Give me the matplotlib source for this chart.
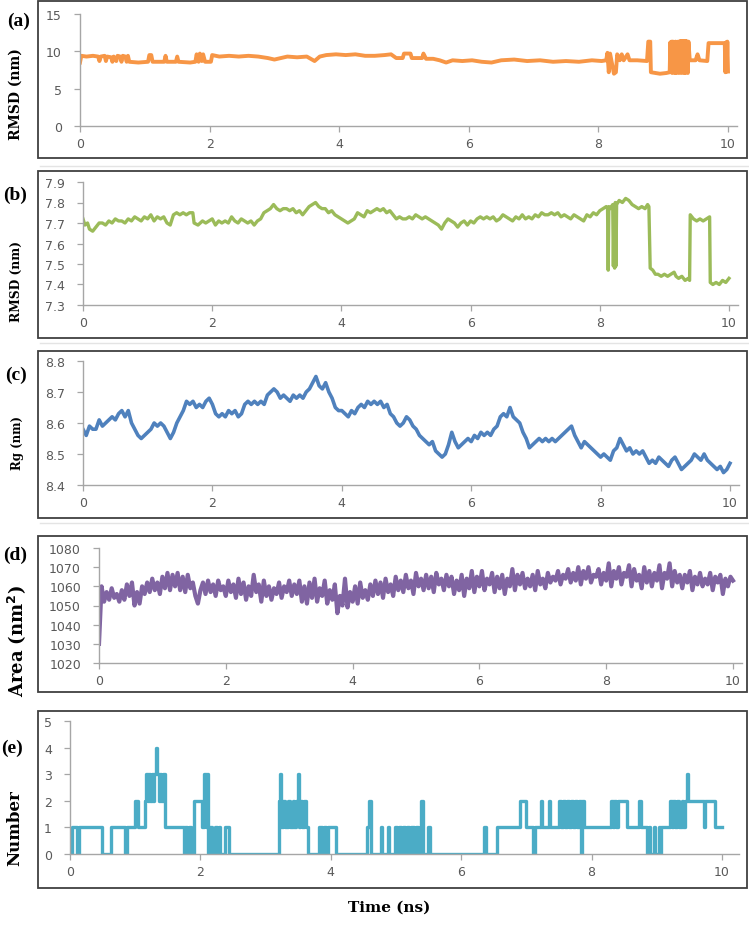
import numpy as np
import matplotlib
matplotlib.use("Agg")
import matplotlib.pyplot as plt
from matplotlib.patches import Rectangle
from matplotlib.lines import Line2D

W, H = 749, 929

# ---- data ----
# (a) RMSD, orange
t_a = [0.00, 0.02, 0.10, 0.20, 0.28, 0.30, 0.32, 0.38, 0.40, 0.42, 0.48, 0.50, 0.52, 0.56,
       0.58, 0.62, 0.64, 0.66, 0.70, 0.72, 0.74, 0.76, 0.90, 1.05, 1.07, 1.10, 1.12, 1.30,
       1.32, 1.34, 1.48, 1.50, 1.52, 1.70, 1.78, 1.80, 1.83, 1.85, 1.88, 1.90, 1.93, 2.02,
       2.04, 2.15, 2.30, 2.45, 2.60, 2.75, 2.90, 3.00, 3.10, 3.20, 3.35, 3.50, 3.58, 3.62,
       3.70, 3.80, 3.95, 4.10, 4.25, 4.40, 4.55, 4.70, 4.80, 4.88, 4.98, 5.00, 5.10, 5.12,
       5.28, 5.30, 5.34, 5.45, 5.55, 5.65, 5.75, 5.90, 6.05, 6.20, 6.35, 6.50, 6.70, 6.90,
       7.10, 7.30, 7.50, 7.70, 7.90, 8.05, 8.12, 8.14, 8.16, 8.18, 8.20, 8.24, 8.27, 8.29,
       8.33, 8.36, 8.39, 8.45, 8.48, 8.60, 8.75, 8.77, 8.80, 8.81, 8.95, 9.05, 9.10,
       9.11, 9.12, 9.13, 9.14, 9.15, 9.16, 9.17, 9.18, 9.19, 9.20, 9.21, 9.22, 9.23, 9.24,
       9.25, 9.26, 9.27, 9.28, 9.29, 9.30, 9.31, 9.32, 9.33, 9.34, 9.35, 9.36, 9.37, 9.38,
       9.39, 9.41, 9.50, 9.53, 9.56, 9.68, 9.70, 9.95, 9.96, 9.97, 9.98, 9.99, 10.00]
rmsd_a = [8.5, 9.4, 9.3, 9.4, 9.3, 8.7, 9.3, 9.4, 8.7, 9.3, 9.2, 8.6, 9.3, 8.7,
          9.4, 9.3, 8.6, 9.4, 9.3, 8.6, 9.4, 8.6, 8.5, 8.6, 9.5, 9.5, 8.6, 8.6,
          9.4, 8.6, 8.6, 9.3, 8.6, 8.5, 8.6, 9.6, 8.6, 9.7, 8.7, 9.6, 8.6, 8.6,
          9.5, 9.3, 9.4, 9.3, 9.4, 9.3, 9.1, 8.9, 9.1, 9.3, 9.2, 9.3, 8.9, 8.7,
          9.3, 9.5, 9.6, 9.5, 9.6, 9.4, 9.4, 9.5, 9.6, 9.1, 9.1, 9.7, 9.7, 9.1,
          9.1, 9.7, 9.0, 9.0, 8.8, 8.5, 8.8, 8.7, 8.8, 8.6, 8.5, 8.8, 8.9, 8.7,
          8.8, 8.6, 8.7, 8.6, 8.8, 8.7, 8.8, 9.8, 7.2, 9.7, 8.8, 7.0, 7.2, 9.6,
          8.8, 9.6, 8.8, 9.6, 8.8, 8.8, 8.7, 11.3, 11.3, 7.2, 7.0, 7.1, 7.2,
          11.2, 7.2, 11.3, 7.1, 11.3, 7.2, 11.2, 7.1, 11.3, 7.1, 11.2, 7.2, 11.3, 7.1,
          11.3, 7.2, 11.4, 7.1, 11.3, 7.2, 11.4, 7.1, 11.3, 7.1, 11.4, 7.2, 11.3, 7.1,
          11.3, 8.8, 8.8, 9.6, 8.8, 8.7, 11.1, 11.1, 7.2, 11.2, 7.3, 11.3, 7.3]

# (b) RMSD, green
t_b = [0.00, 0.03, 0.07, 0.10, 0.15, 0.20, 0.25, 0.30, 0.35, 0.40, 0.45, 0.50, 0.55, 0.60,
       0.65, 0.70, 0.75, 0.80, 0.85, 0.90, 0.95, 1.00, 1.05, 1.10, 1.15, 1.20, 1.25, 1.30,
       1.35, 1.40, 1.45, 1.50, 1.55, 1.60, 1.65, 1.70, 1.72, 1.78, 1.85, 1.90, 1.95, 2.00,
       2.05, 2.10, 2.15, 2.20, 2.25, 2.30, 2.35, 2.40, 2.45, 2.50, 2.55, 2.60, 2.65, 2.70,
       2.75, 2.80, 2.85, 2.90, 2.95, 3.00, 3.05, 3.10, 3.15, 3.20, 3.25, 3.30, 3.35, 3.40,
       3.45, 3.50, 3.55, 3.60, 3.65, 3.70, 3.75, 3.80, 3.85, 3.90, 3.95, 4.00, 4.05, 4.10,
       4.15, 4.20, 4.25, 4.30, 4.35, 4.40, 4.45, 4.50, 4.55, 4.60, 4.65, 4.70, 4.75, 4.80,
       4.85, 4.90, 4.95, 5.00, 5.05, 5.10, 5.15, 5.20, 5.25, 5.30, 5.35, 5.40, 5.45, 5.50,
       5.55, 5.60, 5.65, 5.70, 5.75, 5.80, 5.85, 5.90, 5.95, 6.00, 6.05, 6.10, 6.15, 6.20,
       6.25, 6.30, 6.35, 6.40, 6.45, 6.50, 6.55, 6.60, 6.65, 6.70, 6.75, 6.80, 6.85, 6.90,
       6.95, 7.00, 7.05, 7.10, 7.15, 7.20, 7.25, 7.30, 7.35, 7.40, 7.45, 7.50, 7.55, 7.60,
       7.65, 7.70, 7.75, 7.80, 7.85, 7.90, 7.95, 8.00, 8.05, 8.10, 8.12, 8.13, 8.14, 8.16,
       8.20, 8.21, 8.22, 8.23, 8.24, 8.25, 8.26, 8.30, 8.35, 8.40, 8.45, 8.50, 8.55, 8.60,
       8.65, 8.70, 8.74, 8.76, 8.78, 8.82, 8.86, 8.90, 8.95, 9.00, 9.05, 9.10, 9.15, 9.18,
       9.22, 9.27, 9.32, 9.37, 9.39, 9.40, 9.45, 9.50, 9.55, 9.60, 9.65, 9.70, 9.71, 9.75,
       9.80, 9.85, 9.90, 9.95, 10.00]
rmsd_b = [7.72, 7.69, 7.70, 7.67, 7.66, 7.68, 7.70, 7.70, 7.69, 7.71, 7.70, 7.72, 7.71, 7.71,
          7.70, 7.72, 7.71, 7.73, 7.72, 7.71, 7.73, 7.72, 7.74, 7.71, 7.73, 7.72, 7.73, 7.70,
          7.69, 7.74, 7.75, 7.74, 7.75, 7.74, 7.75, 7.75, 7.70, 7.69, 7.71, 7.70, 7.71, 7.72,
          7.69, 7.71, 7.70, 7.71, 7.70, 7.73, 7.71, 7.70, 7.72, 7.71, 7.70, 7.71, 7.69, 7.71,
          7.72, 7.75, 7.76, 7.77, 7.79, 7.77, 7.76, 7.77, 7.77, 7.76, 7.77, 7.75, 7.76, 7.74,
          7.76, 7.78, 7.79, 7.80, 7.78, 7.77, 7.77, 7.75, 7.76, 7.74, 7.73, 7.72, 7.71, 7.70,
          7.71, 7.72, 7.75, 7.74, 7.73, 7.76, 7.75, 7.76, 7.77, 7.76, 7.77, 7.75, 7.76, 7.74,
          7.72, 7.73, 7.72, 7.72, 7.73, 7.72, 7.74, 7.73, 7.72, 7.73, 7.72, 7.71, 7.70, 7.69,
          7.67, 7.70, 7.72, 7.71, 7.70, 7.68, 7.70, 7.71, 7.69, 7.71, 7.70, 7.72, 7.73, 7.72,
          7.73, 7.72, 7.73, 7.71, 7.72, 7.74, 7.73, 7.72, 7.71, 7.73, 7.72, 7.74, 7.72, 7.73,
          7.72, 7.74, 7.73, 7.75, 7.74, 7.74, 7.75, 7.74, 7.75, 7.73, 7.74, 7.73, 7.72, 7.74,
          7.73, 7.72, 7.71, 7.74, 7.73, 7.75, 7.74, 7.76, 7.77, 7.78, 7.77, 7.47, 7.78, 7.77,
          7.79, 7.49, 7.78, 7.48, 7.80, 7.49, 7.79, 7.81, 7.80, 7.82, 7.81, 7.79, 7.78, 7.77,
          7.78, 7.77, 7.79, 7.78, 7.48, 7.47, 7.45, 7.45, 7.44, 7.45, 7.44, 7.45, 7.46, 7.44,
          7.43, 7.44, 7.42, 7.43, 7.42, 7.74, 7.72, 7.71, 7.72, 7.71, 7.72, 7.73, 7.41, 7.40,
          7.41, 7.40, 7.42, 7.41, 7.43]

# (c) Rg, blue -- one value every 0.05 ns
rg_c = [8.58, 8.56, 8.59, 8.58, 8.58, 8.61, 8.59, 8.60, 8.61, 8.62, 8.61,
        8.63, 8.64, 8.62, 8.64, 8.60, 8.58, 8.56, 8.55, 8.56, 8.57,
        8.58, 8.60, 8.59, 8.60, 8.59, 8.57, 8.55, 8.57, 8.60, 8.62,
        8.64, 8.67, 8.66, 8.67, 8.65, 8.66, 8.65, 8.67, 8.68, 8.66,
        8.63, 8.62, 8.63, 8.62, 8.64, 8.63, 8.64, 8.62, 8.63, 8.66,
        8.67, 8.66, 8.67, 8.66, 8.67, 8.66, 8.69, 8.70, 8.71, 8.70,
        8.68, 8.69, 8.68, 8.67, 8.69, 8.68, 8.69, 8.68, 8.70, 8.71,
        8.73, 8.75, 8.72, 8.71, 8.73, 8.70, 8.68, 8.65, 8.64, 8.64,
        8.63, 8.62, 8.64, 8.63, 8.65, 8.66, 8.65, 8.67, 8.66, 8.67,
        8.66, 8.67, 8.65, 8.66, 8.63, 8.62, 8.60, 8.59, 8.60, 8.62,
        8.61, 8.59, 8.58, 8.56, 8.55, 8.54, 8.53, 8.54, 8.51, 8.50,
        8.49, 8.50, 8.53, 8.57, 8.54, 8.52, 8.53, 8.54, 8.55, 8.54,
        8.56, 8.55, 8.57, 8.56, 8.57, 8.56, 8.58, 8.59, 8.62, 8.63,
        8.62, 8.65, 8.62, 8.61, 8.60, 8.57, 8.55, 8.52, 8.53, 8.54,
        8.55, 8.54, 8.55, 8.54, 8.55, 8.54, 8.55, 8.56, 8.57, 8.58,
        8.59, 8.56, 8.54, 8.52, 8.54, 8.53, 8.52, 8.51, 8.50, 8.49,
        8.50, 8.49, 8.48, 8.51, 8.52, 8.55, 8.53, 8.51, 8.52, 8.50,
        8.51, 8.50, 8.51, 8.49, 8.47, 8.48, 8.47, 8.49, 8.48, 8.47,
        8.46, 8.48, 8.49, 8.47, 8.45, 8.46, 8.47, 8.48, 8.50, 8.49,
        8.48, 8.50, 8.48, 8.47, 8.46, 8.45, 8.46, 8.44, 8.45, 8.47]

# (d) Area, purple -- one value every 0.04 ns
area_d = [1030, 1060, 1052, 1057, 1053, 1059, 1054, 1056, 1052, 1058,
          1053, 1061, 1055, 1062, 1050, 1057, 1051, 1060, 1056, 1062,
          1057, 1064, 1058, 1062, 1056, 1065, 1059, 1067, 1058, 1066,
          1060, 1067, 1058, 1065, 1057, 1066, 1059, 1062, 1055, 1051,
          1058, 1062, 1056, 1063, 1057, 1061, 1055, 1063, 1058, 1060,
          1055, 1063, 1057, 1061, 1054, 1064, 1056, 1062, 1053, 1060,
          1055, 1066, 1057, 1061, 1052, 1063, 1055, 1060, 1053, 1059,
          1056, 1062, 1054, 1060, 1057, 1063, 1055, 1061, 1056, 1063,
          1052, 1060, 1051, 1062, 1054, 1064, 1052, 1059, 1055, 1063,
          1051, 1058, 1053, 1061, 1046, 1055, 1050, 1064, 1049, 1057,
          1052, 1060, 1051, 1062, 1054, 1058, 1053, 1061, 1055, 1063,
          1056, 1062, 1054, 1064, 1057, 1061, 1055, 1065, 1058, 1063,
          1057, 1066, 1059, 1063, 1056, 1067, 1060, 1064, 1058, 1066,
          1059, 1065, 1057, 1067, 1061, 1064, 1058, 1066, 1060, 1065,
          1056, 1063, 1058, 1066, 1055, 1064, 1059, 1068, 1057, 1065,
          1060, 1068, 1058, 1064, 1061, 1067, 1057, 1065, 1059, 1066,
          1056, 1064, 1060, 1069, 1058, 1066, 1061, 1067, 1059, 1064,
          1060, 1066, 1058, 1068, 1061, 1064, 1059, 1067, 1062, 1065,
          1063, 1068, 1061, 1066, 1064, 1069, 1062, 1067, 1063, 1070,
          1061, 1068, 1064, 1070, 1062, 1066, 1065, 1069, 1061, 1067,
          1063, 1072, 1060, 1068, 1064, 1070, 1061, 1067, 1065, 1071,
          1060, 1069, 1063, 1066, 1059, 1070, 1062, 1068, 1060, 1067,
          1063, 1071, 1059, 1067, 1064, 1072, 1060, 1068, 1062, 1066,
          1059, 1066, 1062, 1068, 1058, 1065, 1061, 1067, 1060, 1064,
          1061, 1067, 1058, 1065, 1062, 1066, 1056, 1064, 1060, 1065,
          1063]

# (e) Number, aqua -- change points (value holds until next time)
t_e = [0.00, 0.03, 0.10, 0.14, 0.49, 0.63, 0.85, 0.88, 1.00, 1.05, 1.15, 1.17, 1.19, 1.21,
       1.23, 1.25, 1.27, 1.29, 1.32, 1.34, 1.36, 1.38, 1.40, 1.42, 1.45, 1.75, 1.77, 1.80,
       1.83, 1.86, 1.90, 2.03, 2.06, 2.08, 2.10, 2.12, 2.15, 2.18, 2.22, 2.25, 2.28, 2.30,
       2.38, 2.44, 3.20, 3.22, 3.24, 3.27, 3.30, 3.35, 3.38, 3.42, 3.44, 3.46, 3.49, 3.51,
       3.53, 3.56, 3.59, 3.62, 3.65, 3.82, 3.87, 3.89, 3.93, 3.95, 4.08, 4.55, 4.58, 4.61,
       4.77, 4.79, 4.88, 4.90, 4.99, 5.02, 5.04, 5.08, 5.10, 5.14, 5.17, 5.20, 5.23, 5.27,
       5.30, 5.34, 5.37, 5.39, 5.42, 5.49, 5.52, 6.35, 6.38, 6.55, 6.90, 7.00, 7.10, 7.13,
       7.22, 7.24, 7.34, 7.36, 7.50, 7.53, 7.56, 7.59, 7.62, 7.65, 7.68, 7.71, 7.74, 7.77,
       7.80, 7.84, 7.86, 7.88, 8.30, 8.33, 8.35, 8.38, 8.41, 8.55, 8.72, 8.75, 8.85, 8.88,
       8.90, 8.95, 8.97, 9.03, 9.05, 9.07, 9.20, 9.23, 9.25, 9.28, 9.31, 9.34, 9.38, 9.40,
       9.43, 9.46, 9.48, 9.72, 9.74, 9.90, 10.00]
num_e = [0, 1, 0, 1, 0, 1, 0, 1, 2, 1, 2, 3, 2, 3,
         2, 3, 2, 3, 4, 3, 2, 3, 2, 3, 1, 0, 1, 0,
         1, 0, 2, 1, 3, 1, 3, 0, 1, 0, 1, 0, 1, 0,
         1, 0, 2, 3, 1, 2, 1, 2, 1, 2, 1, 2, 3, 1,
         2, 1, 2, 1, 0, 1, 0, 1, 0, 1, 0, 1, 2, 0,
         1, 0, 1, 0, 1, 0, 1, 0, 1, 0, 1, 0, 1, 0,
         1, 0, 1, 2, 0, 1, 0, 1, 0, 1, 2, 1, 0, 1,
         2, 1, 2, 1, 2, 1, 2, 1, 2, 1, 2, 1, 2, 1,
         2, 0, 2, 1, 2, 1, 2, 1, 2, 1, 2, 1, 0, 1,
         0, 1, 0, 1, 0, 1, 2, 1, 2, 1, 2, 1, 2, 1,
         2, 3, 2, 1, 2, 1, 1]

xticks = [0, 2, 4, 6, 8, 10]
yticks_a = [0, 5, 10, 15]
yticks_b = [7.3, 7.4, 7.5, 7.6, 7.7, 7.8, 7.9]
yticks_c = [8.4, 8.5, 8.6, 8.7, 8.8]
yticks_d = [1020, 1030, 1040, 1050, 1060, 1070, 1080]
yticks_e = [0, 1, 2, 3, 4, 5]

AXIS_GREY = "#A6A6A6"
TEXT_GREY = "#595959"


def fx(x):
    return x / W


def fy(y):
    return 1 - y / H


def make_axes(fig, x0, x10, xend, ytop, ybot, yticks, fmt):
    ax = fig.add_axes([fx(x0), fy(ybot), (xend - x0) / W, (ybot - ytop) / H])
    ax.set_xlim(0, 10 * (xend - x0) / (x10 - x0))
    ax.set_ylim(yticks[0], yticks[-1])
    ax.set_xticks(xticks)
    ax.set_yticks(yticks)
    ax.set_yticklabels([fmt.format(v) for v in yticks])
    for s in ["top", "right"]:
        ax.spines[s].set_visible(False)
    for s in ["left", "bottom"]:
        ax.spines[s].set_color(AXIS_GREY)
        ax.spines[s].set_linewidth(1.0)
    ax.tick_params(axis="both", direction="out", length=4, width=0.9,
                   color=AXIS_GREY, labelcolor=TEXT_GREY, labelsize=9)
    ax.tick_params(axis="y", pad=9)
    ax.tick_params(axis="x", pad=4)
    ax.patch.set_alpha(0)
    return ax


fig = plt.figure(figsize=(W / 100, H / 100), dpi=100)

# panel frames
for top, bot in [(2, 159), (172, 339), (352, 519), (537, 693), (712, 889)]:
    fig.add_artist(Rectangle((fx(38), fy(bot)), (747 - 38) / W, (bot - top) / H,
                             transform=fig.transFigure, fill=False,
                             edgecolor="#404040", linewidth=1.3))
# faint separator lines left over from the page
for y in [167, 344, 524]:
    fig.add_artist(Line2D([fx(40), fx(749)], [fy(y), fy(y)], transform=fig.transFigure,
                          color="#E4E4E4", linewidth=1.0))

lw = 2.4

ax = make_axes(fig, 80, 728, 737, 15, 127, yticks_a, "{:d}")
ax.plot(t_a, rmsd_a, color="#F79646", lw=2.8, solid_joinstyle="round")

ax = make_axes(fig, 83, 729, 738, 183, 306, yticks_b, "{:.1f}")
ax.plot(t_b, rmsd_b, color="#9BBB59", lw=lw)

ax = make_axes(fig, 83, 730, 739, 362, 486, yticks_c, "{:.1f}")
ax.plot(np.linspace(0, 10, len(rg_c)), rg_c, color="#4F81BD", lw=2.6)

ax = make_axes(fig, 99, 733, 742, 549, 664, yticks_d, "{:d}")
ax.plot(np.linspace(0, 10, len(area_d)), area_d, color="#8064A2", lw=3.0)

ax = make_axes(fig, 70, 722, 739, 722, 855, yticks_e, "{:d}")
ax.plot(t_e, num_e, color="#4BACC6", lw=lw, drawstyle="steps-post")

# panel letters
for lab, x, y in [("(a)", 19, 21), ("(b)", 15, 195), ("(c)", 16, 375),
                  ("(d)", 15, 555), ("(e)", 12, 748)]:
    fig.text(fx(x), fy(y), lab, family="Liberation Serif", weight="bold",
             fontsize=14, ha="center", va="center")

# y labels
for lab, x, y, size in [("RMSD (nm)", 16, 94, 10), ("RMSD (nm)", 16, 281, 8.8),
                        ("Rg (nm)", 17, 443, 8.5), ("Area (nm$^\\mathbf{2}$)", 17, 641, 13),
                        ("Number", 15, 828, 12)]:
    fig.text(fx(x), fy(y), lab, family="DejaVu Serif", weight="bold", fontsize=size,
             rotation=90, ha="center", va="center")

fig.text(fx(389), fy(908), "Time (ns)", family="DejaVu Serif", weight="bold",
         fontsize=11, ha="center", va="center")

fig.savefig("out.png", dpi=100)
